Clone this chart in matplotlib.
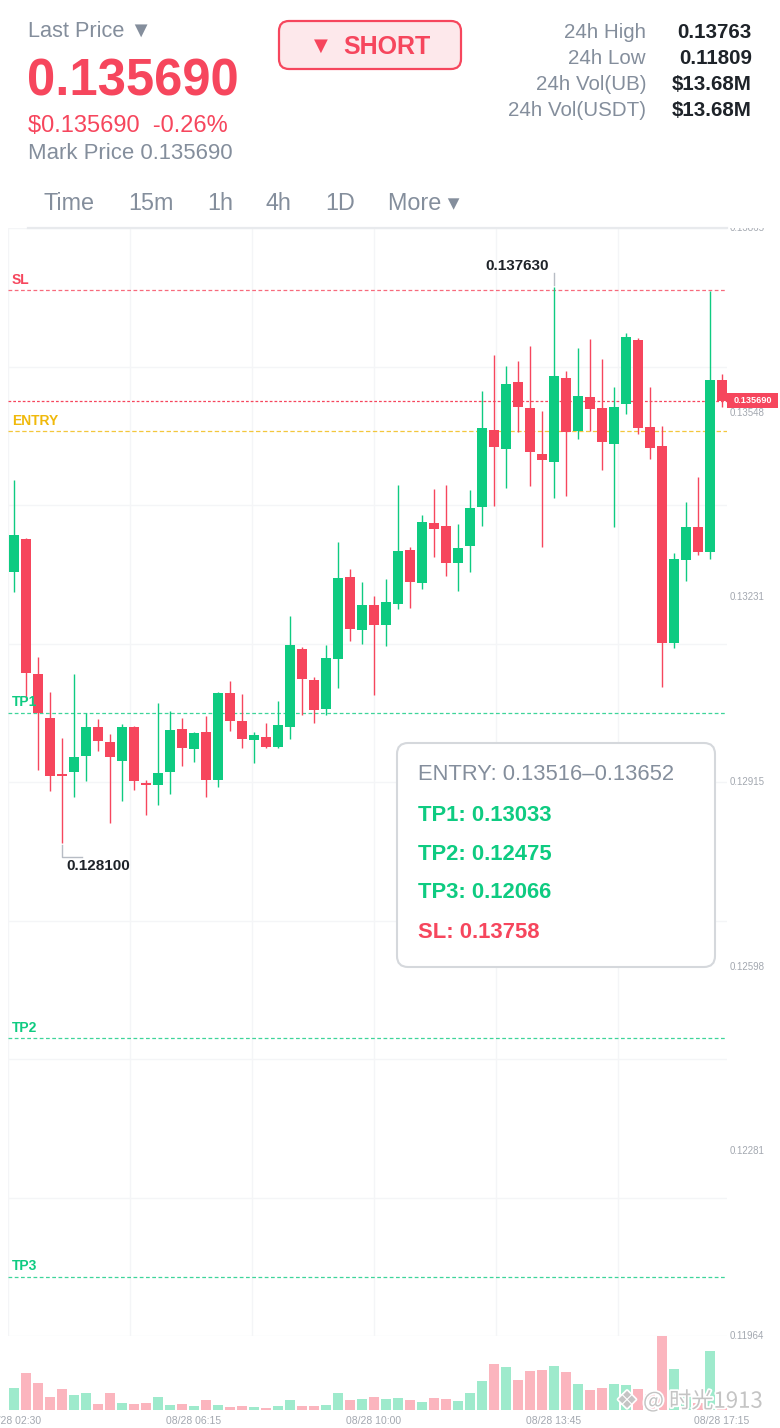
import matplotlib
matplotlib.use("Agg")
import matplotlib.pyplot as plt
from matplotlib.patches import FancyBboxPatch, Rectangle
import matplotlib.patheffects as pe
import numpy as np

plt.rcParams["font.family"] = ["Liberation Sans", "DejaVu Sans"]

GREEN = "#0ecb81"
RED = "#f6465d"
YELLOW = "#f0b90b"
GRAY = "#848e9c"
DARK = "#1e2329"
AXIS_GRAY = "#a3a8b0"
GRID = "#f4f5f7"

# 15m candles, 08/28 02:30 -> 17:15
opens = [
    0.132745, 0.133311, 0.130994, 0.130239, 0.129278, 0.129312, 0.129587, 0.130084, 0.129827, 0.129501,
    0.130084, 0.129123, 0.129089, 0.129312, 0.130050, 0.129707, 0.129999, 0.129174, 0.130668, 0.130187,
    0.129861, 0.129913, 0.129741, 0.130084, 0.131423, 0.130891, 0.130393, 0.131252, 0.132659, 0.131749,
    0.132179, 0.131835, 0.132196, 0.133123, 0.132556, 0.133586, 0.133535, 0.132900, 0.133191, 0.133861,
    0.135183, 0.134857, 0.136007, 0.135560, 0.134771, 0.134633, 0.136075, 0.135166, 0.135749, 0.135560,
    0.134942, 0.135629, 0.136728, 0.135234, 0.134908, 0.131526, 0.132951, 0.133518, 0.133088, 0.136041]
closes = [
    0.133380, 0.131011, 0.130325, 0.129243, 0.129243, 0.129569, 0.130084, 0.129844, 0.129569, 0.130084,
    0.129157, 0.129089, 0.129295, 0.130033, 0.129724, 0.129981, 0.129174, 0.130668, 0.130187, 0.129878,
    0.129947, 0.129741, 0.130119, 0.131492, 0.130908, 0.130376, 0.131269, 0.132642, 0.131767, 0.132179,
    0.131835, 0.132230, 0.133106, 0.132573, 0.133603, 0.133483, 0.132900, 0.133157, 0.133844, 0.135217,
    0.134891, 0.135972, 0.135577, 0.134805, 0.134668, 0.136110, 0.135148, 0.135766, 0.135543, 0.134977,
    0.135577, 0.136779, 0.135217, 0.134874, 0.131526, 0.132968, 0.133518, 0.133088, 0.136041, 0.135690]
highs = [
    0.134324, 0.133330, 0.131286, 0.130685, 0.129896, 0.130994, 0.130325, 0.130222, 0.129964, 0.130136,
    0.130100, 0.129174, 0.130496, 0.130359, 0.130239, 0.129999, 0.130273, 0.130685, 0.130874, 0.130651,
    0.129999, 0.130153, 0.130531, 0.131990, 0.131457, 0.130943, 0.131492, 0.133260, 0.132797, 0.132573,
    0.132333, 0.132625, 0.134238, 0.133174, 0.133724, 0.134170, 0.134238, 0.133569, 0.134153, 0.135852,
    0.136470, 0.136281, 0.136367, 0.136625, 0.135509, 0.137630, 0.136195, 0.136590, 0.136745, 0.136401,
    0.135921, 0.136848, 0.136762, 0.135921, 0.135251, 0.133071, 0.133947, 0.134376, 0.137569, 0.136144]
lows = [
    0.132402, 0.130548, 0.129346, 0.128986, 0.128100, 0.128883, 0.129157, 0.129672, 0.128436, 0.128814,
    0.129003, 0.128574, 0.128745, 0.128934, 0.129415, 0.129484, 0.128883, 0.129054, 0.130016, 0.129724,
    0.129466, 0.129724, 0.129724, 0.129878, 0.130290, 0.130153, 0.130290, 0.130754, 0.131561, 0.131509,
    0.130634, 0.131475, 0.132110, 0.132127, 0.132453, 0.133003, 0.132676, 0.132419, 0.132745, 0.133535,
    0.133878, 0.134187, 0.135148, 0.134221, 0.133174, 0.134015, 0.134050, 0.135028, 0.135166, 0.134496,
    0.133518, 0.135457, 0.135114, 0.134685, 0.130771, 0.131440, 0.132591, 0.133037, 0.132968, 0.135577]
volumes = [
    22, 37, 27, 13, 21, 15, 17, 6, 17, 7,
    6, 7, 13, 5, 6, 4, 10, 5, 3, 4,
    3, 2, 4, 10, 4, 4, 5, 17, 10, 11,
    13, 11, 12, 10, 8, 12, 11, 9, 17, 29,
    46, 43, 30, 39, 40, 44, 38, 26, 20, 22,
    26, 25, 21, 16, 74, 41, 14, 7, 59, 2]

tick_idx = [0, 15, 30, 45, 59]
tick_labels = ["08/28 02:30", "08/28 06:15", "08/28 10:00", "08/28 13:45", "08/28 17:15"]

y_min, y_max = 0.11964, 0.13865

level_names = ["SL", "ENTRY", "TP1", "TP2", "TP3"]
level_values = [0.13758, 0.13516, 0.13033, 0.12475, 0.12066]
level_colors = [RED, YELLOW, GREEN, GREEN, GREEN]

stat_labels = ["24h High", "24h Low", "24h Vol(UB)", "24h Vol(USDT)"]
stat_values = ["0.13763", "0.11809", "$13.68M", "$13.68M"]
tabs = ["Time", "15m", "1h", "4h", "1D", "More ▾"]
tab_x = [44, 128, 207, 266, 325, 388]

info_lines = ["ENTRY: 0.13516–0.13652", "TP1: 0.13033", "TP2: 0.12475",
              "TP3: 0.12066", "SL: 0.13758"]
info_colors = [GRAY, GREEN, GREEN, GREEN, RED]

W, H = 780, 1428
fig = plt.figure(figsize=(W / 100, H / 100), dpi=100)
fig.patch.set_facecolor("white")


def frac(x0, y0, x1, y1):
    return [x0 / W, 1 - y1 / H, (x1 - x0) / W, (y1 - y0) / H]


ax = fig.add_axes(frac(8, 228, 727, 1336))
vax = fig.add_axes(frac(8, 1336, 727, 1410))
ov = fig.add_axes([0, 0, 1, 1])
ov.set_xlim(0, W)
ov.set_ylim(H, 0)
ov.axis("off")
ov.patch.set_alpha(0)

opens = np.array(opens)
closes = np.array(closes)
highs = np.array(highs)
lows = np.array(lows)
n = len(opens)
x = np.arange(n)
up = closes >= opens
colors = np.where(up, GREEN, RED)

xlo, xhi = -0.5, 59.42
ppx = (y_max - y_min) / 1108.0  # price per pixel

for a in (ax, vax):
    a.set_xlim(xlo, xhi)
    for s in a.spines.values():
        s.set_visible(False)
    a.set_xticks([])
    a.set_yticks([])
    a.patch.set_alpha(0)
ax.set_ylim(y_min, y_max)

# grid
for v in np.linspace(y_min, y_max, 9):
    ax.axhline(v, color=GRID, lw=1.0, zorder=0)
for f in np.arange(6) * 122 / 719:
    ax.axvline(xlo + f * (xhi - xlo), color=GRID, lw=1.0, zorder=0)

# candles
ax.vlines(x, lows, highs, colors=colors, lw=1.0, zorder=2)
body_lo = np.minimum(opens, closes)
body_h = np.maximum(np.abs(closes - opens), 2 * ppx)
ax.bar(x, body_h, bottom=body_lo, width=0.83, color=colors, lw=0, zorder=3)

# volume
vax.bar(x, volumes, width=0.83, color=colors, alpha=0.4, lw=0)
vax.set_ylim(0, 74.5)
for i, lab in zip(tick_idx, tick_labels):
    vax.text(i, -0.155, lab, transform=vax.get_xaxis_transform(), ha="center",
             va="center", fontsize=7.5, color=AXIS_GRAY, clip_on=False)

# level lines
dash_style = {"SL": (0, (3, 2)), "ENTRY": (0, (3.5, 2)), "TP1": (0, (3, 2)),
              "TP2": (0, (3, 2)), "TP3": (0, (3, 2))}
for name, val, c in zip(level_names, level_values, level_colors):
    ax.axhline(val, color=c, lw=0.9, ls=dash_style[name], alpha=0.8, zorder=1)
    ax.annotate(name, xy=(0.0056, val), xycoords=ax.get_yaxis_transform(),
                xytext=(0, 2.6), textcoords="offset points", ha="left", va="bottom",
                fontsize=10, fontweight="bold", color=c)

last = closes[-1]
ax.axhline(last, color=RED, lw=0.9, ls=(0, (2.2, 1.6)), zorder=1)

# right price labels
ytr = ax.get_yaxis_transform()
for v in np.linspace(y_min, y_max, 7):
    ax.text(1.0042, v, f"{v:.5f}", transform=ytr, ha="left", va="center",
            fontsize=7, color=AXIS_GRAY, clip_on=False)
ax.add_patch(Rectangle((1.0, last - 7.5 * ppx), 51 / 719, 15 * ppx, transform=ytr,
                       facecolor=RED, edgecolor="none", clip_on=False, zorder=5))
ax.text(1.0 + 25.5 / 719, last, f"{last:.6f}", transform=ytr, ha="center", va="center",
        fontsize=6.6, fontweight="bold", color="white", clip_on=False, zorder=6)

# extreme annotations
hi_i = int(np.argmax(highs))
lo_i = int(np.argmin(lows))
ax.plot([hi_i, hi_i], [highs[hi_i] + 2 * ppx, highs[hi_i] + 14 * ppx],
        color="#b7bcc4", lw=1.0, zorder=4)
ax.text(hi_i - 0.42, highs[hi_i] + 17 * ppx, f"{highs[hi_i]:.6f}", ha="right",
        va="baseline", fontsize=11, fontweight="bold", color=DARK)
ax.plot([lo_i, lo_i, lo_i + 20 / 12], [lows[lo_i] - 2 * ppx, lows[lo_i] - 14 * ppx,
        lows[lo_i] - 14 * ppx], color="#b7bcc4", lw=1.0, zorder=4)
ax.text(lo_i + 0.33, lows[lo_i] - 27 * ppx, f"{lows[lo_i]:.6f}", ha="left",
        va="baseline", fontsize=11, fontweight="bold", color=DARK)

# ---- header (pixel coordinates) ----
ov.add_patch(Rectangle((727, 205), 53, 22.5, facecolor="white", edgecolor="none"))
ov.plot([28, 727], [227.5, 227.5], color="#e8eaed", lw=1.6)

ov.text(28, 37, "Last Price ▼", fontsize=15.7, color=GRAY, va="baseline")
ov.text(27, 95, f"{last:.6f}", fontsize=36.5, fontweight="bold", color=RED, va="baseline")
ov.text(28, 132, f"${last:.6f}  -0.26%", fontsize=17, color=RED, va="baseline")
ov.text(28, 159, f"Mark Price {last:.6f}", fontsize=15.9, color=GRAY, va="baseline")

ov.add_patch(FancyBboxPatch((279, 21), 182, 48, boxstyle="round,pad=0,rounding_size=10",
                            facecolor="#fde8eb", edgecolor=RED, lw=1.6))
ov.text(321, 46, "▼", fontsize=13, color=RED, ha="center", va="center",
        family="DejaVu Sans")
ov.text(343, 54, "SHORT", fontsize=18, fontweight="bold", color=RED, va="baseline")

for k, (lab, val) in enumerate(zip(stat_labels, stat_values)):
    yb = 38 + 26 * k
    ov.text(646, yb, lab, fontsize=14.8, color=GRAY, ha="right", va="baseline")
    ov.text(752, yb, val, fontsize=14.8, fontweight="bold", color=DARK, ha="right",
            va="baseline")

for t, tx in zip(tabs, tab_x):
    ov.text(tx, 210, t, fontsize=16.8, color=GRAY, va="baseline")

# info box
ov.add_patch(FancyBboxPatch((397, 743), 318, 224, boxstyle="round,pad=0,rounding_size=11",
                            facecolor="white", edgecolor="#d5d8dc", lw=1.5, zorder=5))
for k, (line, c) in enumerate(zip(info_lines, info_colors)):
    yb = [780, 821, 860, 898, 938][k]
    ov.text(418, yb, line, fontsize=15.8, color=c, va="baseline",
            fontweight="normal" if k == 0 else "bold", zorder=6)

# watermark
wm = [pe.withStroke(linewidth=2.5, foreground="white")]
ov.text(627, 1401, "❖", fontsize=17, color="#c4c4c4", ha="center", va="center",
        family="DejaVu Sans", path_effects=wm, zorder=7)
ov.text(643, 1401, "@ 时光1913", fontsize=16, color="#c4c4c4", ha="left", va="center",
        family=["Noto Sans CJK SC", "DejaVu Sans"], path_effects=wm, zorder=7)

fig.savefig("out.png", dpi=100, facecolor="white")
